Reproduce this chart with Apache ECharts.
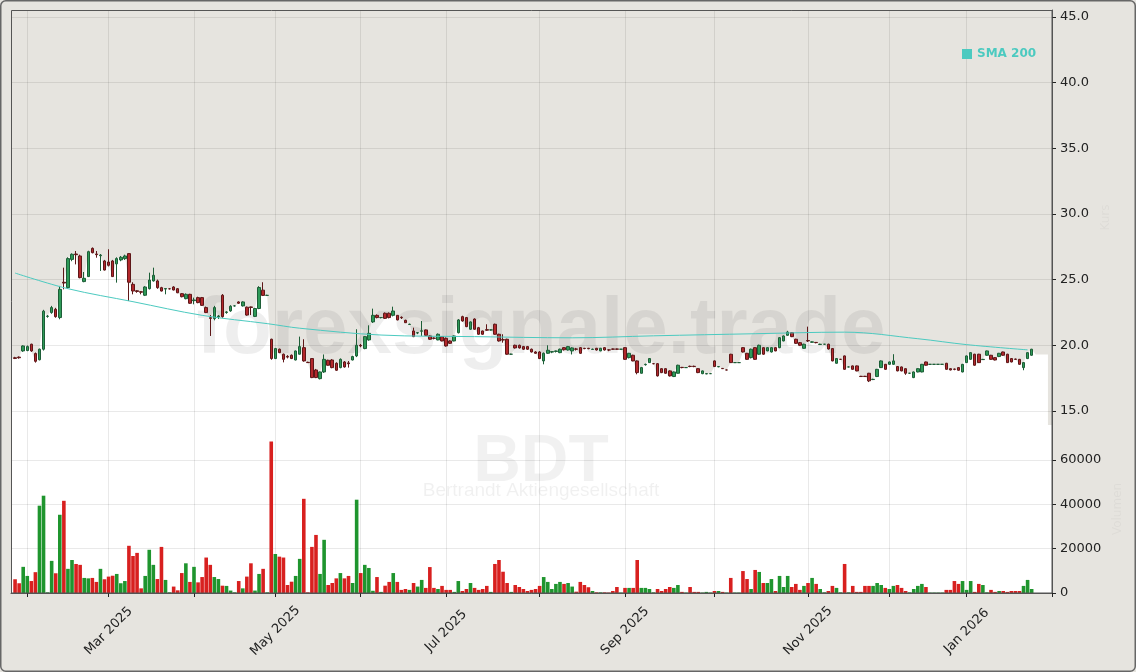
<!DOCTYPE html>
<html><head><meta charset="utf-8">
<script src="https://cdn.jsdelivr.net/npm/echarts@6/dist/echarts.min.js"></script>
<style>html,body{margin:0;padding:0;background:#e6e4df}#c{width:1136px;height:672px}</style>
</head><body><div id="c"></div>
<script>
const padBefore = ['2025-01-28'];
const dates = [
'2025-01-29','2025-01-30','2025-01-31',
'2025-02-03','2025-02-04','2025-02-05','2025-02-06','2025-02-07','2025-02-10','2025-02-11','2025-02-12','2025-02-13','2025-02-14','2025-02-17','2025-02-18','2025-02-19','2025-02-20','2025-02-21','2025-02-24','2025-02-25','2025-02-26','2025-02-27','2025-02-28',
'2025-03-03','2025-03-04','2025-03-05','2025-03-06','2025-03-07','2025-03-10','2025-03-11','2025-03-12','2025-03-13','2025-03-14','2025-03-17','2025-03-18','2025-03-19','2025-03-20','2025-03-21','2025-03-24','2025-03-25','2025-03-26','2025-03-27','2025-03-28','2025-03-31',
'2025-04-01','2025-04-02','2025-04-03','2025-04-04','2025-04-07','2025-04-08','2025-04-09','2025-04-10','2025-04-11','2025-04-14','2025-04-15','2025-04-16','2025-04-17','2025-04-22','2025-04-23','2025-04-24','2025-04-25','2025-04-28','2025-04-29','2025-04-30',
'2025-05-02','2025-05-05','2025-05-06','2025-05-07','2025-05-08','2025-05-09','2025-05-12','2025-05-13','2025-05-14','2025-05-15','2025-05-16','2025-05-19','2025-05-20','2025-05-21','2025-05-22','2025-05-23','2025-05-26','2025-05-27','2025-05-28','2025-05-29','2025-05-30',
'2025-06-02','2025-06-03','2025-06-04','2025-06-05','2025-06-06','2025-06-09','2025-06-10','2025-06-11','2025-06-12','2025-06-13','2025-06-16','2025-06-17','2025-06-18','2025-06-19','2025-06-20','2025-06-23','2025-06-24','2025-06-25','2025-06-26','2025-06-27','2025-06-30',
'2025-07-01','2025-07-02','2025-07-03','2025-07-04','2025-07-07','2025-07-08','2025-07-09','2025-07-10','2025-07-11','2025-07-14','2025-07-15','2025-07-16','2025-07-17','2025-07-18','2025-07-21','2025-07-22','2025-07-23','2025-07-24','2025-07-25','2025-07-28','2025-07-29','2025-07-30','2025-07-31',
'2025-08-01','2025-08-04','2025-08-05','2025-08-06','2025-08-07','2025-08-08','2025-08-11','2025-08-12','2025-08-13','2025-08-14','2025-08-15','2025-08-18','2025-08-19','2025-08-20','2025-08-21','2025-08-22','2025-08-25','2025-08-26','2025-08-27','2025-08-28','2025-08-29',
'2025-09-01','2025-09-02','2025-09-03','2025-09-04','2025-09-05','2025-09-08','2025-09-09','2025-09-10','2025-09-11','2025-09-12','2025-09-15','2025-09-16','2025-09-17','2025-09-18','2025-09-19','2025-09-22','2025-09-23','2025-09-24','2025-09-25','2025-09-26','2025-09-29','2025-09-30',
'2025-10-01','2025-10-02','2025-10-03','2025-10-06','2025-10-07','2025-10-08','2025-10-09','2025-10-10','2025-10-13','2025-10-14','2025-10-15','2025-10-16','2025-10-17','2025-10-20','2025-10-21','2025-10-22','2025-10-23','2025-10-24','2025-10-27','2025-10-28','2025-10-29','2025-10-30','2025-10-31',
'2025-11-03','2025-11-04','2025-11-05','2025-11-06','2025-11-07','2025-11-10','2025-11-11','2025-11-12','2025-11-13','2025-11-14','2025-11-17','2025-11-18','2025-11-19','2025-11-20','2025-11-21','2025-11-24','2025-11-25','2025-11-26','2025-11-27','2025-11-28',
'2025-12-01','2025-12-02','2025-12-03','2025-12-04','2025-12-05','2025-12-08','2025-12-09','2025-12-10','2025-12-11','2025-12-12','2025-12-15','2025-12-16','2025-12-17','2025-12-18','2025-12-19','2025-12-22','2025-12-23','2025-12-29','2025-12-30',
'2026-01-02','2026-01-05','2026-01-06','2026-01-07','2026-01-08','2026-01-09','2026-01-12','2026-01-13','2026-01-14','2026-01-15','2026-01-16','2026-01-19','2026-01-20','2026-01-21','2026-01-22','2026-01-23','2026-01-26'
];
const padAfter = ['2026-01-27','2026-01-28','2026-01-29','2026-01-30','2026-02-02'];

const opens = [
19.05,19.10,19.57,19.60,20.08,19.37,18.90,19.70,22.20,22.49,
22.74,22.11,24.80,24.39,26.54,26.95,26.80,24.85,25.23,27.38,
26.95,26.82,26.42,26.34,26.42,26.20,26.50,26.60,26.98,24.64,
24.15,24.08,23.81,24.31,24.90,24.90,24.39,24.28,24.30,24.44,
24.31,23.93,23.55,23.88,23.40,23.63,23.63,22.87,22.10,22.03,
22.18,23.81,22.50,22.62,23.00,23.30,23.00,22.90,22.92,22.20,
22.80,24.20,23.80,20.46,18.99,19.70,19.32,19.15,19.24,18.88,
19.32,19.82,18.70,18.99,18.12,17.46,17.97,18.86,18.88,18.63,
18.30,18.73,18.66,18.88,19.19,20.00,19.75,20.41,21.78,22.28,
22.11,22.44,22.44,22.28,22.28,22.13,21.90,21.58,21.09,20.94,
21.07,21.17,20.71,20.55,20.41,20.66,20.53,20.33,20.33,20.96,
22.18,22.11,21.22,22.00,21.34,21.09,21.19,21.17,21.60,20.84,
20.43,20.46,19.32,20.00,20.00,19.90,19.90,19.70,19.49,19.49,
18.81,19.39,19.48,19.53,19.44,19.82,19.64,19.57,19.72,19.82,
19.77,19.77,19.68,19.77,19.57,19.82,19.65,19.72,19.72,19.70,
19.82,19.06,19.24,18.81,17.87,18.52,18.68,18.60,18.60,18.22,
18.22,18.05,17.62,17.87,18.32,18.30,18.40,18.40,18.22,17.84,
17.82,17.84,18.81,18.36,18.24,18.12,19.32,18.68,18.68,19.82,
19.39,19.06,19.82,19.32,19.82,19.57,19.49,19.82,19.82,20.33,
20.76,20.96,20.46,20.20,19.77,20.36,20.23,20.22,20.06,20.08,
20.08,19.75,18.63,18.93,19.19,18.35,18.43,18.43,17.64,17.64,
17.87,17.39,17.62,18.30,18.55,18.55,18.55,18.38,18.35,18.22,
17.87,17.54,17.97,17.97,18.73,18.55,18.55,18.55,18.55,18.63,
18.22,18.19,18.30,17.97,18.68,18.93,19.32,19.32,18.91,19.24,
19.24,19.06,19.14,19.49,19.32,18.99,18.95,18.93,18.30,18.99,
19.24];
const highs = [
19.12,19.15,20.00,19.98,20.12,19.45,19.75,22.70,22.30,23.00,
22.85,24.52,25.91,26.70,27.00,27.18,26.90,25.58,27.20,27.45,
27.18,26.95,26.50,27.31,26.50,26.70,26.80,26.90,27.00,24.80,
24.20,24.12,24.50,25.53,25.91,25.00,24.45,24.35,24.35,24.50,
24.35,23.98,23.95,23.92,23.63,23.70,23.68,22.95,22.30,23.00,
22.30,23.90,22.60,23.05,23.05,23.35,23.35,22.95,22.95,22.85,
24.50,24.80,23.85,20.50,19.80,19.75,19.37,19.25,19.30,19.60,
20.66,20.46,18.75,19.00,18.20,18.00,19.30,18.90,18.95,18.70,
19.00,18.80,18.80,19.20,21.22,20.10,20.70,21.52,22.79,22.35,
22.15,22.50,22.50,22.94,22.30,22.20,21.95,21.65,21.34,21.00,
21.85,21.20,20.75,20.60,20.90,20.70,20.60,20.38,20.75,22.00,
22.25,22.15,21.82,22.05,21.40,21.12,21.60,21.20,21.65,20.88,
20.84,20.50,19.36,20.05,20.05,19.95,19.95,19.75,19.55,19.55,
19.45,20.00,19.55,19.60,19.75,19.85,19.95,19.85,19.80,19.85,
19.80,19.80,19.75,19.80,19.80,19.85,19.70,19.75,19.75,19.72,
19.85,19.42,19.28,18.85,18.35,18.60,19.02,18.65,18.65,18.25,
18.25,18.10,18.00,18.52,18.35,18.33,18.45,18.45,18.25,18.08,
17.88,17.86,18.85,18.40,18.26,18.14,19.35,18.70,18.70,19.85,
19.42,19.75,19.85,20.05,19.85,19.85,19.85,19.85,20.62,20.75,
21.10,21.00,20.50,20.25,20.12,21.42,20.30,20.25,20.12,20.10,
20.12,19.78,19.02,18.96,19.22,18.38,18.46,18.46,17.67,17.67,
17.90,17.45,18.20,18.85,18.58,18.76,19.32,18.42,18.38,18.25,
17.90,18.00,18.25,18.58,18.76,18.57,18.57,18.57,18.57,18.66,
18.25,18.22,18.33,18.58,19.22,19.47,19.35,19.35,18.96,19.60,
19.27,19.09,19.42,19.52,19.35,19.02,18.98,18.96,18.72,19.47,
19.73];
const lows = [
18.95,18.98,19.50,19.55,19.50,18.68,18.85,19.60,22.10,22.40,
22.10,21.98,24.26,24.30,26.40,26.16,25.10,24.80,25.20,27.00,
26.67,25.66,25.70,26.00,25.20,24.77,26.40,26.50,23.37,23.88,
24.00,23.88,23.75,24.25,24.85,24.30,24.10,23.88,24.25,24.18,
23.97,23.65,23.50,23.15,23.12,23.20,23.00,22.45,20.71,21.90,
22.00,22.10,22.40,22.55,22.95,23.15,22.95,22.25,22.30,22.15,
22.75,23.75,23.75,18.90,18.95,19.40,18.70,19.00,18.95,18.85,
19.30,18.75,18.65,17.50,17.50,17.40,17.90,18.45,18.25,18.05,
18.25,18.30,18.30,18.85,19.10,19.85,19.70,20.35,21.70,22.05,
22.05,22.00,22.05,22.20,21.90,22.00,21.70,21.55,20.62,20.85,
20.71,20.72,20.42,20.45,20.38,20.30,19.90,20.10,20.30,20.90,
21.80,21.38,21.18,21.18,20.80,20.80,21.10,21.12,20.80,20.28,
20.20,19.28,19.28,19.75,19.75,19.65,19.65,19.45,19.35,18.95,
18.55,19.35,19.40,19.45,19.40,19.60,19.60,19.30,19.60,19.35,
19.70,19.70,19.65,19.60,19.55,19.60,19.55,19.65,19.65,19.68,
18.90,19.00,18.78,17.79,17.85,18.45,18.65,18.55,17.62,17.88,
17.83,17.62,17.58,17.85,18.25,18.27,18.33,18.33,17.88,17.80,
17.80,17.82,18.35,18.33,18.20,18.10,18.65,18.66,18.66,19.45,
18.90,19.00,18.90,19.28,19.28,19.55,19.45,19.55,19.78,20.30,
20.72,20.62,20.10,19.96,19.74,20.25,20.20,20.15,20.02,20.05,
19.68,18.78,18.60,18.90,18.14,18.32,18.14,18.02,17.59,17.59,
17.20,17.35,17.58,18.27,18.14,18.52,18.52,18.02,18.02,17.75,
17.85,17.50,17.94,17.94,18.45,18.53,18.53,18.53,18.53,18.14,
18.09,18.10,18.07,17.94,18.65,18.90,18.45,18.65,18.88,19.20,
18.90,18.85,19.10,19.20,18.65,18.70,18.90,18.52,18.10,18.95,
19.20];
const closes = [
19.00,19.05,19.95,19.90,19.57,18.78,19.70,22.60,22.22,22.87,
22.18,24.26,24.74,26.60,26.93,26.90,25.15,25.10,27.13,27.05,
26.90,26.87,25.73,26.09,25.23,26.60,26.70,26.80,24.80,24.13,
24.10,24.04,24.44,24.97,25.33,24.39,24.13,24.32,24.30,24.21,
24.00,23.70,23.88,23.20,23.45,23.25,23.04,22.49,22.05,22.87,
22.23,22.18,22.54,22.97,23.00,23.20,23.30,22.30,22.88,22.80,
24.40,23.80,23.80,18.99,19.75,19.44,18.93,19.10,18.99,19.57,
19.90,18.81,18.68,17.54,17.54,17.97,18.93,18.48,18.30,18.10,
18.93,18.35,18.60,19.14,20.00,19.95,20.66,20.91,22.28,22.11,
22.11,22.05,22.11,22.61,21.93,22.10,21.72,21.60,20.66,20.96,
21.10,20.76,20.46,20.53,20.84,20.33,19.95,20.15,20.71,21.93,
21.85,21.42,21.78,21.22,20.84,20.84,21.15,21.17,20.84,20.33,
20.40,19.32,19.32,19.80,19.80,19.70,19.70,19.49,19.39,18.99,
19.39,19.62,19.52,19.57,19.70,19.66,19.90,19.80,19.70,19.39,
19.75,19.74,19.70,19.64,19.77,19.64,19.64,19.70,19.70,19.70,
18.93,19.39,18.81,17.92,18.30,18.55,18.99,18.60,17.67,17.92,
17.87,17.67,17.97,18.48,18.30,18.30,18.38,18.38,17.92,18.05,
17.84,17.84,18.38,18.38,18.22,18.12,18.68,18.68,18.68,19.49,
18.93,19.70,18.93,20.00,19.32,19.82,19.82,19.57,20.58,20.71,
21.01,20.66,20.15,20.00,20.08,20.33,20.26,20.20,20.08,20.08,
19.72,18.81,18.99,18.93,18.17,18.35,18.17,18.05,17.62,17.62,
17.29,17.41,18.17,18.81,18.17,18.73,18.81,18.05,18.05,17.87,
17.87,17.97,18.22,18.55,18.48,18.55,18.55,18.55,18.55,18.17,
18.12,18.17,18.10,18.55,19.19,19.44,18.48,18.68,18.93,19.57,
18.93,18.88,19.39,19.24,18.68,18.73,18.93,18.55,18.68,19.44,
19.70];
const volumes = [
6200,4400,11800,7700,5400,9400,39400,43900,300,14500,
8900,35300,41600,10900,14900,13100,12700,6800,6600,6800,
5000,10900,6200,7400,7800,8600,4400,5400,21300,16700,
18100,2100,7700,19500,12700,6300,20800,5900,300,2900,
1200,9000,13400,5000,11800,4800,7200,16000,12700,7200,
6300,3300,3200,1100,300,5400,2100,7400,13400,1100,
8600,10900,300,68300,17600,16400,16000,3600,5100,7700,
15400,42500,300,20800,26200,8600,24000,3600,4500,6600,
9000,6600,7700,4500,42100,9000,12700,11300,1000,7200,
500,3300,5000,9000,5000,1400,1800,1400,4500,2900,
5900,2300,11700,2300,1800,3200,1400,1400,500,5400,
900,1800,4500,2300,1400,1800,3200,500,13100,14900,
9600,4500,500,3600,2700,1800,900,1400,1800,3200,
7200,5000,1800,4100,5000,4100,4500,2900,600,5000,
3600,2600,900,300,300,300,200,900,2700,200,
2300,2300,2300,14900,2300,2300,1800,300,1800,900,
1800,2700,2300,3600,500,200,2700,500,500,200,
500,200,900,900,500,200,6800,200,200,9900,
6300,1800,10400,9500,4500,4500,6300,900,7700,2700,
7700,2700,4100,1400,3200,4500,6800,4100,1800,300,
900,3200,2300,300,13100,300,3200,500,500,3200,
3200,3200,4500,3600,2300,1800,3200,3600,2300,900,
300,1800,3200,4100,2700,200,200,200,200,1400,
1400,5400,4100,5400,1400,5400,500,4100,3600,300,
1400,500,900,900,500,900,900,900,3200,5900,
1800];
const smaDates  = ['2025-01-29','2025-02-17','2025-03-11','2025-04-03','2025-04-29','2025-05-12','2025-06-09','2025-07-10','2025-08-13','2025-09-10','2025-10-15','2025-11-14','2025-12-10','2026-01-02','2026-01-23'];
const smaValues = [25.50,24.31,23.32,22.28,21.65,21.30,20.78,20.66,20.57,20.72,20.88,21.00,20.50,20.05,19.65];
const fillHead = [19.0];
const fillTail = [19.3,19.3,19.3,19.3];
const priceTicks = [15,20,25,30,35,40,45];
const volumeTicks = [0,20000,40000,60000];
const labelMonths = ['2025-03','2025-05','2025-07','2025-09','2025-11','2026-01'];
const monthNames = ['Jan','Feb','Mar','Apr','May','Jun','Jul','Aug','Sep','Oct','Nov','Dec'];

const UP='#2e9a58', UPB='#1d5e37', DN='#b3272b', DNB='#5e1718';
const VUP='#1f952e', VDN='#d8201f';
const TEAL='#4ccac0';
const GRID='rgba(0,0,0,0.085)';
const FONT='DejaVu Sans';

const cats = padBefore.concat(dates, padAfter);
const off = padBefore.length;
const N = dates.length;
const isMonthStart = (k) => k > 0 && cats[k].slice(0,7) !== cats[k-1].slice(0,7);
const isLabel = (k) => isMonthStart(k) && labelMonths.indexOf(cats[k].slice(0,7)) >= 0;

const candleData = cats.map((d,k)=>{const i=k-off; return (i>=0&&i<N)?[opens[i],closes[i],lows[i],highs[i]]:'-';});
const volData = cats.map((d,k)=>{const i=k-off; if(i<0||i>=N) return '-'; return {value:volumes[i], itemStyle:{color: closes[i]>=opens[i]?VUP:VDN}};});
const fillData = cats.map((d,k)=>{const i=k-off; if(i<0) return fillHead[0]; if(i<N) return closes[i]; const t=i-N; return t<fillTail.length?fillTail[t]:'-';});
const smaData = smaDates.map((d,j)=>[d, smaValues[j]]);

const chart = echarts.init(document.getElementById('c'), null, {renderer:'canvas'});
chart.setOption({
  animation:false,
  backgroundColor:'#e6e4df',
  textStyle:{fontFamily:FONT},
  legend:{data:['SMA 200'], left:957, top:43, icon:'rect', itemWidth:10, itemHeight:10, itemGap:5,
    textStyle:{color:TEAL, fontWeight:'bold', fontSize:12, fontFamily:FONT}},
  grid:[
    {left:11, right:84, top:10, height:415, show:true, backgroundColor:'#e6e4df', borderWidth:0},
    {left:11, right:84, top:425, height:168, show:true, backgroundColor:'#ffffff', borderWidth:0}
  ],
  xAxis:[
    {type:'category', gridIndex:0, data:cats, boundaryGap:false, z:3,
     axisLine:{show:false}, axisTick:{show:false}, axisLabel:{show:false},
     splitLine:{show:true, interval:(k)=>isMonthStart(k), lineStyle:{color:GRID, width:1}}},
    {type:'category', gridIndex:1, data:cats, boundaryGap:false, z:3,
     axisLine:{show:true, lineStyle:{color:'#555'}},
     axisTick:{show:true, interval:(k)=>isMonthStart(k), length:4, lineStyle:{color:'#222'}},
     axisLabel:{show:true, interval:(k)=>isLabel(k), rotate:45, align:'center', verticalAlign:'middle', margin:38,
       fontSize:13, color:'#222', fontFamily:FONT,
       formatter:(v)=>monthNames[parseInt(v.slice(5,7),10)-1]+' '+v.slice(0,4)},
     splitLine:{show:true, interval:(k)=>isMonthStart(k), lineStyle:{color:GRID, width:1}}}
  ],
  yAxis:[
    {type:'value', gridIndex:0, position:'right', min:13.93, max:45.53, z:3,
     name:'Kurs', nameLocation:'middle', nameGap:48, nameTextStyle:{color:'rgba(0,0,0,0.035)', fontSize:12},
     axisLine:{show:true, lineStyle:{color:'#555'}},
     axisTick:{show:true, length:4, customValues:priceTicks, lineStyle:{color:'#222'}},
     axisLabel:{show:true, customValues:priceTicks, margin:8, fontSize:13, color:'#222', fontFamily:FONT, formatter:(v)=>v.toFixed(1)},
     splitLine:{show:true, lineStyle:{color:GRID, width:1}}},
    {type:'value', gridIndex:1, position:'right', min:0, max:75800, z:3,
     name:'Volumen', nameLocation:'middle', nameGap:60, nameTextStyle:{color:'rgba(0,0,0,0.035)', fontSize:12},
     axisLine:{show:true, lineStyle:{color:'#555'}},
     axisTick:{show:true, length:4, customValues:volumeTicks, lineStyle:{color:'#222'}},
     axisLabel:{show:true, customValues:volumeTicks, margin:8, fontSize:13, color:'#222', fontFamily:FONT, formatter:(v)=>String(v)},
     splitLine:{show:true, lineStyle:{color:GRID, width:1}}}
  ],
  graphic:[
    {type:'text', z:2, silent:true, style:{text:'forexsignale.trade', x:541, y:331, align:'center', verticalAlign:'middle',
      font:'bold 80px "Liberation Sans", Arial, sans-serif', fill:'rgba(0,0,0,0.065)'}},
    {type:'text', z:2, silent:true, style:{text:'BDT', x:541, y:463, align:'center', verticalAlign:'middle',
      font:'bold 66px "Liberation Sans", Arial, sans-serif', fill:'rgba(0,0,0,0.055)'}},
    {type:'text', z:2, silent:true, style:{text:'Bertrandt Aktiengesellschaft', x:541, y:491, align:'center', verticalAlign:'middle',
      font:'19px "Liberation Sans", Arial, sans-serif', fill:'rgba(0,0,0,0.06)'}},
    {type:'rect', z:20, silent:true, shape:{x:11.5, y:10.5, width:1040.5, height:582.5}, style:{fill:null, stroke:'#555', lineWidth:1}},
    {type:'rect', z:20, silent:true, shape:{x:0.75, y:0.75, width:1134.5, height:670.5, r:5}, style:{fill:null, stroke:'#666', lineWidth:1.5}}
  ],
  series:[
    {name:'fill', type:'line', xAxisIndex:0, yAxisIndex:0, data:fillData, symbol:'none', silent:true, z:1,
     lineStyle:{width:0, color:'#fff'}, areaStyle:{color:'#ffffff', opacity:1, origin:'start'}},
    {name:'BDT', type:'candlestick', xAxisIndex:0, yAxisIndex:0, data:candleData, z:5, barWidth:3,
     itemStyle:{color:UP, color0:DN, borderColor:UPB, borderColor0:DNB, borderWidth:1}},
    {name:'SMA 200', type:'line', xAxisIndex:0, yAxisIndex:0, data:smaData, symbol:'none', smooth:0.35, z:6,
     itemStyle:{color:TEAL}, lineStyle:{color:TEAL, width:1}},
    {name:'Volumen', type:'bar', xAxisIndex:1, yAxisIndex:1, data:volData, z:5, barWidth:3.6, barGap:'-100%'}
  ]
});
</script>
</body></html>
